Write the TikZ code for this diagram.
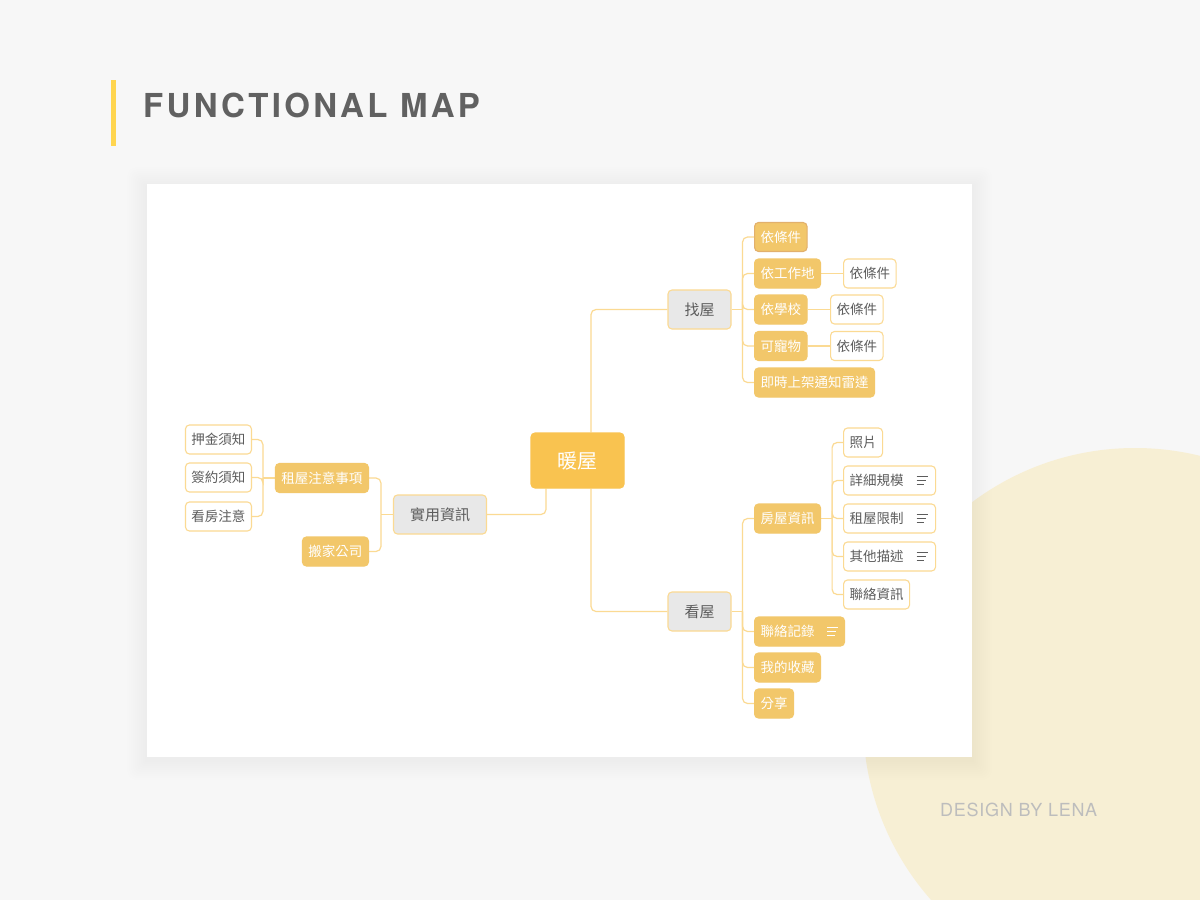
\documentclass[tikz,border=0pt]{standalone}
\usepackage{fontspec}
\setmainfont{TeX Gyre Heros}
\newfontfamily\cjk{Noto Sans CJK TC}
\newfontfamily\titlefont[LetterSpace=10]{TeX Gyre Heros}
\newfontfamily\signfont[LetterSpace=4]{TeX Gyre Heros}
\usetikzlibrary{positioning}

\definecolor{pagebg}{HTML}{F7F7F7}
\definecolor{cream}{HTML}{F7EFD4}
\definecolor{barY}{HTML}{FFD54F}
\definecolor{titleG}{HTML}{616161}
\definecolor{signG}{HTML}{BDBDBD}
\definecolor{rootY}{HTML}{F9C350}
\definecolor{leafY}{HTML}{F2C76A}
\definecolor{pickY}{HTML}{E2B06C}
\definecolor{lineY}{HTML}{FBDA93}
\definecolor{grayBox}{HTML}{E8E8E8}
\definecolor{inkG}{HTML}{5C5C5C}

\pgfdeclarelayer{back}
\pgfdeclarelayer{edges}
\pgfsetlayers{back,edges,main}

\tikzset{
  base/.style={rounded corners=4pt, line width=1.1pt, minimum height=29pt,
    inner xsep=6pt, inner ysep=0pt, font=\cjk\fontsize{13.5}{16}\selectfont},
  rootbox/.style={base, fill=rootY, draw=rootY, text=white, minimum width=93pt,
    minimum height=55pt, font=\cjk\fontsize{20}{24}\selectfont},
  topicbox/.style={base, fill=grayBox, draw=lineY, text=inkG, inner xsep=16.5pt,
    minimum height=39pt, font=\cjk\fontsize{15}{18}\selectfont},
  subbox/.style={base, fill=leafY, draw=leafY, text=white},
  leafbox/.style={base, fill=white, draw=lineY, text=inkG},
  link/.style={draw=lineY, line width=1.2pt, rounded corners=5pt},
  noteicon/.pic={\draw[line width=1pt] (0,-3.7) -- (11,-3.7) (0,0) -- (9.3,0) (0,3.7) -- (7.7,3.7);}
}

\begin{document}
\begin{tikzpicture}[x=1pt,y=-1pt]
	\useasboundingbox (0,0) rectangle (1200,900);
	\begin{pgfonlayer}{back}
		\clip (0,0) rectangle (1200,900);
		\fill[pagebg] (0,0) rectangle (1200,900);
		\fill[cream] (1135,720) circle (272);
		% soft shadow round the panel
		\foreach \i in {1,...,10}
			\fill[black, opacity=0.005, rounded corners=\i pt]
				(147-2*\i,184-2*\i+3) rectangle (972+2*\i,757+2*\i+3);
		\fill[white] (147,184) rectangle (972,757);
		\fill[barY] (111,80) rectangle (116,146);
	\end{pgfonlayer}

	% heading and signature
	\node[anchor=base west, inner sep=0pt, text=titleG,
		font=\titlefont\bfseries\fontsize{33}{40}\selectfont] (title) at (143,117) {FUNCTIONAL MAP};
	\node[anchor=base west, inner sep=0pt, text=signG,
		font=\signfont\fontsize{18}{22}\selectfont] (sign) at (940,816) {DESIGN BY LENA};

	% centre and main topics
	\node[rootbox] (home) at (577.5,460.5) {暖屋};
	\node[topicbox] (find) at (699.5,309.5) {找屋};
	\node[topicbox] (view) at (699.5,611.5) {看屋};
	\node[topicbox] (info) at (440,514.5) {實用資訊};

	% find branch
	\node[subbox, anchor=west, draw=pickY] (byCond) at (754,237) {依條件};
	\node[subbox, anchor=west] (byWork) at (754,273.5) {依工作地};
	\node[subbox, anchor=west] (bySchool) at (754,309.5) {依學校};
	\node[subbox, anchor=west] (byPet) at (754,346) {可寵物};
	\node[subbox, anchor=west] (radar) at (754,382.5) {即時上架通知雷達};
	\node[leafbox, anchor=west] (workCond) at (843,273.5) {依條件};
	\node[leafbox, anchor=west] (schoolCond) at (830,309.5) {依條件};
	\node[leafbox, anchor=west] (petCond) at (830,346) {依條件};

	% view branch
	\node[subbox, anchor=west] (house) at (754,518.5) {房屋資訊};
	\node[subbox, anchor=west] (contactLog) at (754,631.5) {聯絡記錄\hspace*{24pt}};
	\node[subbox, anchor=west] (fav) at (754,667.5) {我的收藏};
	\node[subbox, anchor=west] (share) at (754,703.5) {分享};
	\node[leafbox, anchor=west] (photo) at (843,442.5) {照片};
	\node[leafbox, anchor=west] (detail) at (843,480.5) {詳細規模\hspace*{26pt}};
	\node[leafbox, anchor=west] (limit) at (843,518.5) {租屋限制\hspace*{26pt}};
	\node[leafbox, anchor=west] (other) at (843,556.5) {其他描述\hspace*{26pt}};
	\node[leafbox, anchor=west] (contact) at (843,594.5) {聯絡資訊};
	\pic[white] at ([xshift=-18pt]contactLog.east) {noteicon};
	\foreach \n in {detail,limit,other}
		\pic[inkG] at ([xshift=-19.5pt]\n.east) {noteicon};

	% info branch
	\node[subbox, anchor=east] (notice) at (369,478) {租屋注意事項};
	\node[subbox, anchor=east] (mover) at (369,551.5) {搬家公司};
	\node[leafbox, anchor=east] (deposit) at (252,439.5) {押金須知};
	\node[leafbox, anchor=east] (lease) at (252,477.5) {簽約須知};
	\node[leafbox, anchor=east] (visit) at (252,516.5) {看房注意};

	% connectors
	\begin{pgfonlayer}{edges}
		\draw[link] ([xshift=13.5pt]home.north) |- (find.west);
		\draw[link] ([xshift=13.5pt]home.south) |- (view.west);
		\draw[link] ([xshift=-31.5pt]home.south) |- (info.east);

		\draw[link] (find.east) -- ++(11,0) coordinate (findBus);
		\foreach \c in {byCond,byWork,bySchool,byPet,radar}
			\draw[link] (findBus) |- (\c.west);
		\draw[link] (byWork.east) -- (workCond.west);
		\draw[link] (bySchool.east) -- (schoolCond.west);
		\draw[link] (byPet.east) -- (petCond.west);

		\draw[link] (view.east) -- ++(11,0) coordinate (viewBus);
		\foreach \c in {house,contactLog,fav,share}
			\draw[link] (viewBus) |- (\c.west);
		\draw[link] (house.east) -- ++(11,0) coordinate (houseBus);
		\foreach \c in {photo,detail,limit,other,contact}
			\draw[link] (houseBus) |- (\c.west);

		\draw[link] (info.west) -- ++(-12,0) coordinate (infoBus);
		\foreach \c in {notice,mover}
			\draw[link] (infoBus) |- (\c.east);
		\draw[link] (notice.west) -- ++(-12,0) coordinate (noticeBus);
		\foreach \c in {deposit,lease,visit}
			\draw[link] (noticeBus) |- (\c.east);
	\end{pgfonlayer}
\end{tikzpicture}
\end{document}
